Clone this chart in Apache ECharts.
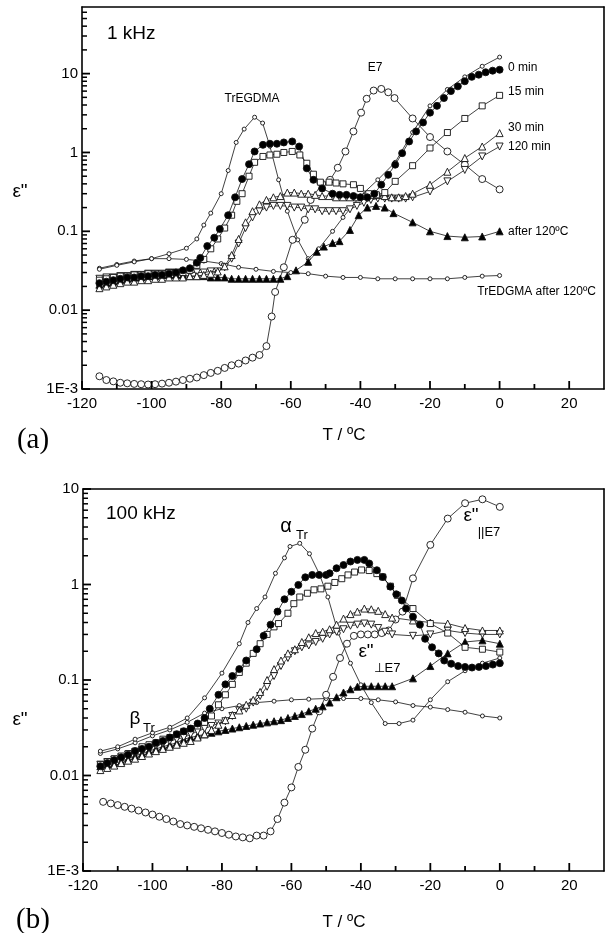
<!DOCTYPE html>
<html>
<head>
<meta charset="utf-8">
<script src="https://cdn.jsdelivr.net/npm/echarts@6/dist/echarts.min.js"></script>
<style>
html, body { margin: 0; padding: 0; background: #fff; }
#chart { width: 607px; height: 933px; }
</style>
</head>
<body>
<div id="chart"></div>
<script>
// ---- ticks ----
var xMajor = [-120, -100, -80, -60, -40, -20, 0, 20];
var xMinor = [-110, -90, -70, -50, -30, -10, 10];
var yMajor = [0.001, 0.01, 0.1, 1, 10];
var yMinorA = [0.002,0.003,0.004,0.005,0.006,0.007,0.008,0.009,0.02,0.03,0.04,0.05,0.06,0.07,0.08,0.09,
  0.2,0.3,0.4,0.5,0.6,0.7,0.8,0.9,2,3,4,5,6,7,8,9,20,30,40,50,60];
var yMinorB = yMinorA.filter(function (v) { return v < 10; });

// ---- (a) 1 kHz ----
var a_TrEGDMA = [[-115,0.033],[-110,0.037],[-105,0.041],[-100,0.045],[-95,0.052],[-90,0.061],[-87,0.08],[-85,0.12],[-83,0.17],[-80,0.3],[-78,0.59],[-75.7,1.34],[-73.4,1.98],[-70.4,2.8],[-68.1,2.36],[-66,1.2],[-63.5,0.45],[-61,0.18],[-58,0.078],[-55,0.045],[-52,0.06],[-48,0.1],[-45,0.15],[-40,0.28],[-35,0.45],[-30,0.75],[-25,1.8],[-20,3.9],[-15,6.3],[-10,9.1],[-5,12.4],[0,16.2]];
var a_E7 = [[-115,0.00145],[-113,0.0013],[-111,0.00125],[-109,0.0012],[-107,0.00118],[-105,0.00116],[-103,0.00115],[-101,0.00114],[-99,0.00115],[-97,0.00117],[-95,0.0012],[-93,0.00124],[-91,0.0013],[-89,0.00135],[-87,0.0014],[-85,0.0015],[-83,0.0016],[-81,0.0017],[-79,0.00185],[-77,0.002],[-75,0.0021],[-73,0.0023],[-71,0.0025],[-69,0.0027],[-67,0.0035],[-65.5,0.0083],[-64.5,0.017],[-62,0.035],[-59.5,0.078],[-56,0.14],[-54.3,0.25],[-51,0.4],[-48.7,0.45],[-46.5,0.64],[-44.3,1.03],[-42,1.85],[-39.8,3.2],[-38.2,4.8],[-36.2,6.1],[-34,6.4],[-32,5.8],[-30.2,4.9],[-25,2.7],[-20,1.57],[-15,1.03],[-10,0.7],[-5,0.46],[0,0.34]];
var a_0min = [[-115,0.022],[-113,0.023],[-111,0.024],[-109,0.025],[-107,0.026],[-105,0.026],[-103,0.027],[-101,0.027],[-99,0.028],[-97,0.028],[-95,0.029],[-93,0.03],[-91,0.032],[-89,0.034],[-87,0.04],[-86,0.046],[-84,0.065],[-82,0.083],[-80.4,0.107],[-78,0.16],[-76,0.27],[-74,0.46],[-72,0.71],[-70.4,1.03],[-68,1.25],[-66,1.29],[-64,1.29],[-62,1.34],[-59.6,1.38],[-57.6,1.19],[-55.4,0.63],[-53.5,0.45],[-51,0.35],[-48,0.3],[-46,0.29],[-44,0.29],[-42,0.28],[-40,0.27],[-38,0.27],[-36,0.3],[-34,0.39],[-32,0.52],[-30,0.7],[-28,0.98],[-26,1.38],[-24,1.85],[-22,2.4],[-20,3.2],[-18,3.9],[-16,4.9],[-14,6.0],[-12,6.9],[-10,8.0],[-8,9.1],[-6,9.7],[-4,10.4],[-2,10.9],[0,11.2]];
var a_15min = [[-115,0.024],[-113,0.025],[-111,0.026],[-109,0.027],[-107,0.027],[-105,0.028],[-103,0.028],[-101,0.029],[-99,0.029],[-97,0.029],[-95,0.03],[-93,0.03],[-91,0.03],[-89,0.032],[-87,0.037],[-85,0.044],[-83,0.06],[-81,0.08],[-79,0.11],[-77,0.16],[-75.5,0.24],[-74,0.3],[-72,0.5],[-70.4,0.75],[-68,0.89],[-66,0.93],[-64,0.95],[-62,1.0],[-59.6,1.03],[-57.4,0.93],[-55.4,0.73],[-53.5,0.53],[-51.5,0.42],[-49,0.42],[-47,0.41],[-45,0.4],[-42,0.39],[-40,0.35],[-37.6,0.3],[-35.4,0.29],[-33,0.31],[-30,0.43],[-25,0.68],[-20,1.14],[-15,1.79],[-10,2.7],[-5,3.9],[0,5.3]];
var a_30min = [[-115,0.019],[-113,0.02],[-111,0.021],[-109,0.022],[-107,0.023],[-105,0.023],[-103,0.024],[-101,0.024],[-99,0.025],[-97,0.025],[-95,0.026],[-93,0.026],[-91,0.026],[-89,0.027],[-87,0.027],[-85,0.028],[-83,0.029],[-81,0.031],[-79,0.036],[-77,0.05],[-75,0.08],[-73,0.13],[-71,0.18],[-69,0.22],[-67,0.25],[-65,0.27],[-63,0.28],[-61,0.31],[-59,0.31],[-57,0.3],[-55,0.3],[-53,0.29],[-51,0.28],[-49,0.28],[-47,0.27],[-45,0.27],[-43,0.27],[-41,0.27],[-39,0.28],[-37,0.29],[-35,0.29],[-33,0.28],[-31,0.27],[-29,0.27],[-27,0.28],[-25,0.3],[-20,0.39],[-15,0.57],[-10,0.85],[-5,1.19],[0,1.76]];
var a_120min = [[-115,0.025],[-113,0.026],[-111,0.026],[-109,0.027],[-107,0.027],[-105,0.028],[-103,0.028],[-101,0.029],[-99,0.029],[-97,0.029],[-95,0.03],[-93,0.03],[-91,0.03],[-89,0.03],[-87,0.03],[-85,0.03],[-83,0.031],[-81,0.031],[-79,0.035],[-77,0.045],[-75,0.07],[-73,0.11],[-71,0.15],[-69,0.18],[-67,0.2],[-65,0.21],[-63,0.21],[-61,0.21],[-59,0.2],[-57,0.2],[-55,0.19],[-53,0.19],[-51,0.18],[-49,0.18],[-47,0.18],[-45,0.18],[-43,0.19],[-41,0.21],[-39,0.23],[-37,0.25],[-35,0.26],[-33,0.26],[-31,0.26],[-29,0.26],[-27,0.26],[-25,0.27],[-20,0.32],[-15,0.43],[-10,0.6],[-5,0.89],[0,1.19]];
var a_after = [[-115,0.021],[-113,0.022],[-111,0.023],[-109,0.024],[-107,0.025],[-105,0.026],[-103,0.026],[-101,0.027],[-99,0.027],[-97,0.028],[-95,0.028],[-93,0.028],[-91,0.028],[-89,0.027],[-87,0.027],[-85,0.027],[-83,0.026],[-81,0.026],[-79,0.026],[-77,0.025],[-75,0.025],[-73,0.025],[-71,0.025],[-69,0.025],[-67,0.025],[-65,0.025],[-63,0.025],[-61,0.027],[-58.5,0.032],[-55,0.041],[-52.5,0.055],[-50.5,0.064],[-48,0.071],[-46,0.075],[-43,0.104],[-40.5,0.16],[-38,0.2],[-35.5,0.21],[-33,0.2],[-30.5,0.17],[-25,0.13],[-20,0.1],[-15,0.087],[-10,0.084],[-5,0.086],[0,0.1]];
var a_TrEDGMAafter = [[-115,0.034],[-110,0.038],[-105,0.042],[-100,0.045],[-95,0.045],[-90,0.044],[-85,0.042],[-80,0.039],[-75,0.035],[-70,0.033],[-65,0.031],[-60,0.03],[-55,0.029],[-50,0.027],[-45,0.026],[-40,0.026],[-35,0.025],[-30,0.025],[-25,0.025],[-20,0.025],[-15,0.025],[-10,0.026],[-5,0.027],[0,0.0275]];

// ---- (b) 100 kHz ----
var b_TrEGDMA = [[-115,0.018],[-110,0.02],[-105,0.024],[-100,0.028],[-95,0.032],[-90,0.04],[-85,0.065],[-80,0.118],[-75,0.24],[-72.5,0.4],[-70,0.56],[-67.6,0.74],[-64.6,1.31],[-62,1.9],[-60.4,2.5],[-57.6,2.7],[-54.8,2.1],[-52,1.3],[-49.5,0.74],[-46.5,0.31],[-43,0.15],[-40,0.089],[-37,0.058],[-33,0.035],[-29,0.035],[-25,0.038],[-20,0.062],[-15,0.096],[-10,0.125],[-5,0.15],[0,0.17]];
var b_E7 = [[-114.2,0.0053],[-112,0.0051],[-110,0.0049],[-108,0.0047],[-106,0.0045],[-104,0.0043],[-102,0.0041],[-100,0.0039],[-98,0.0037],[-96,0.0035],[-94,0.0033],[-92,0.0031],[-90,0.003],[-88,0.0029],[-86,0.0028],[-84,0.0027],[-82,0.0026],[-80,0.0025],[-78,0.0024],[-76,0.0023],[-74,0.00225],[-72,0.0022],[-70,0.00235],[-68,0.00235],[-66,0.0026],[-64,0.0035],[-62,0.0052],[-60,0.0075],[-58,0.0123],[-56,0.0186],[-54,0.031],[-52,0.047],[-50,0.07],[-48,0.108],[-46,0.17],[-44,0.24],[-42,0.29],[-40,0.3],[-38,0.3],[-36,0.3],[-34,0.31],[-32,0.33],[-30,0.43],[-28,0.52],[-25,1.16],[-20,2.6],[-15,4.9],[-10,7.1],[-5,7.8],[0,6.5]];
var b_0min = [[-115,0.0125],[-113,0.0135],[-111,0.0145],[-109,0.0155],[-107,0.0165],[-105,0.018],[-103,0.019],[-101,0.02],[-99,0.022],[-97,0.023],[-95,0.025],[-93,0.027],[-91,0.029],[-89,0.031],[-87,0.035],[-85,0.04],[-83.5,0.05],[-81,0.07],[-79,0.09],[-77,0.11],[-75,0.13],[-73,0.16],[-70,0.21],[-68,0.29],[-66,0.38],[-64,0.52],[-62,0.7],[-60,0.84],[-58,0.99],[-56,1.19],[-54,1.26],[-52,1.26],[-50,1.26],[-49,1.31],[-47,1.48],[-45,1.6],[-43,1.74],[-41,1.81],[-39,1.81],[-37.6,1.66],[-35.4,1.41],[-33.7,1.2],[-31.5,0.95],[-29.8,0.79],[-28.2,0.68],[-27,0.56],[-25,0.46],[-23,0.38],[-21.5,0.27],[-19.5,0.22],[-17.6,0.19],[-16,0.16],[-14,0.148],[-12,0.14],[-10,0.137],[-8,0.135],[-6,0.137],[-4,0.14],[-2,0.145],[0,0.15]];
var b_15min = [[-115,0.013],[-113,0.014],[-111,0.015],[-109,0.016],[-107,0.017],[-105,0.018],[-103,0.02],[-101,0.021],[-99,0.022],[-97,0.024],[-95,0.025],[-93,0.027],[-91,0.029],[-89,0.031],[-87,0.033],[-85,0.036],[-83,0.042],[-81,0.055],[-79,0.07],[-77,0.09],[-75,0.12],[-73,0.15],[-71,0.19],[-69,0.24],[-67,0.3],[-65,0.36],[-63.7,0.39],[-61,0.5],[-59.3,0.63],[-57.6,0.74],[-55.4,0.81],[-53.5,0.88],[-51.5,0.9],[-49.5,0.96],[-47.5,1.05],[-45.5,1.15],[-43.7,1.26],[-41.8,1.35],[-39.8,1.42],[-37.6,1.4],[-35.4,1.3],[-33.7,1.2],[-31.5,0.96],[-29.5,0.77],[-25,0.56],[-20,0.39],[-15,0.31],[-10,0.22],[-5,0.21],[0,0.196]];
var b_30min = [[-115,0.0114],[-113,0.012],[-111,0.0127],[-109,0.0135],[-107,0.0143],[-105,0.015],[-103,0.016],[-101,0.017],[-99,0.018],[-97,0.019],[-95,0.02],[-93,0.021],[-91,0.022],[-89,0.023],[-87,0.025],[-85,0.027],[-83,0.03],[-81,0.034],[-79,0.038],[-77,0.043],[-75,0.048],[-73,0.055],[-71,0.062],[-69,0.075],[-67,0.1],[-65,0.13],[-63,0.16],[-61,0.19],[-59,0.21],[-57,0.25],[-55,0.28],[-53,0.31],[-51,0.32],[-49,0.34],[-47,0.38],[-45,0.44],[-43,0.49],[-41,0.52],[-39,0.56],[-37,0.55],[-35,0.53],[-33,0.49],[-31,0.45],[-25,0.42],[-20,0.4],[-15,0.39],[-10,0.35],[-5,0.33],[0,0.33]];
var b_120min = [[-115,0.013],[-113,0.0138],[-111,0.0146],[-109,0.0155],[-107,0.0165],[-105,0.0175],[-103,0.0185],[-101,0.0195],[-99,0.0205],[-97,0.0215],[-95,0.023],[-93,0.024],[-91,0.025],[-89,0.027],[-87,0.029],[-85,0.031],[-83,0.033],[-81,0.035],[-79,0.037],[-77,0.042],[-75,0.048],[-73,0.05],[-71,0.058],[-69,0.068],[-67,0.085],[-65,0.11],[-63,0.14],[-61,0.17],[-59,0.2],[-57,0.22],[-55,0.23],[-53,0.25],[-51,0.27],[-49,0.3],[-47,0.32],[-45,0.34],[-43,0.37],[-41,0.38],[-39,0.39],[-37,0.38],[-35,0.35],[-33,0.32],[-31,0.3],[-25,0.29],[-20,0.3],[-15,0.33],[-10,0.31],[-5,0.3],[0,0.3]];
var b_after = [[-115,0.0125],[-113,0.013],[-111,0.0135],[-109,0.014],[-107,0.015],[-105,0.016],[-103,0.017],[-101,0.018],[-99,0.019],[-97,0.02],[-95,0.021],[-93,0.022],[-91,0.024],[-89,0.025],[-87,0.026],[-85,0.027],[-83,0.028],[-81,0.029],[-79,0.03],[-77,0.031],[-75,0.032],[-73,0.033],[-71,0.034],[-69,0.035],[-67,0.036],[-65,0.037],[-63,0.038],[-61,0.04],[-59,0.042],[-57,0.044],[-55,0.047],[-53,0.05],[-51,0.053],[-49,0.058],[-47,0.066],[-45,0.074],[-43,0.08],[-41,0.085],[-39,0.086],[-37,0.086],[-35,0.086],[-33,0.086],[-31,0.086],[-25,0.104],[-20,0.14],[-15,0.19],[-10,0.25],[-5,0.26],[0,0.24]];
var b_TrEDGMAafter = [[-115,0.017],[-110,0.019],[-105,0.022],[-100,0.026],[-95,0.03],[-90,0.036],[-85,0.045],[-80,0.05],[-75,0.054],[-70,0.058],[-65,0.06],[-60,0.062],[-55,0.063],[-50,0.064],[-45,0.064],[-40,0.064],[-35,0.062],[-30,0.059],[-25,0.054],[-20,0.052],[-15,0.049],[-10,0.046],[-5,0.042],[0,0.04]];

var chart = echarts.init(document.getElementById('chart'));

var FONT = 'Liberation Sans, Arial, sans-serif';
var DOWN_TRI = 'path://M0,0L10,0L5,8.66Z';

function mk(data, gi, symbol, size, filled) {
    return {
        type: 'line',
        xAxisIndex: gi * 2,
        yAxisIndex: gi * 2,
        data: data,
        symbol: symbol,
        symbolSize: size,
        lineStyle: { color: '#111', width: 0.8 },
        itemStyle: { color: filled ? '#000' : '#fff', borderColor: '#111', borderWidth: 0.9 },
        emphasis: { disabled: true },
        animation: false
    };
}

function xAxes(gi) {
    return [
        {
            gridIndex: gi, type: 'value', min: -120, max: 30, position: 'bottom',
            axisLine: { show: true, onZero: false, lineStyle: { color: '#000', width: 1.6 } },
            axisTick: { show: false },
            axisLabel: { customValues: xMajor, color: '#000', fontSize: 15, fontFamily: FONT, margin: 7 },
            splitLine: { show: false }
        },
        {
            gridIndex: gi, type: 'value', min: -120, max: 30, position: 'top',
            axisLine: { show: true, onZero: false, lineStyle: { color: '#000', width: 1.6 } },
            axisTick: { show: false },
            axisLabel: { show: false },
            splitLine: { show: false }
        }
    ];
}

function yAxes(gi, max) {
    return [
        {
            gridIndex: gi, type: 'log', logBase: 10, min: 0.001, max: max, position: 'left',
            axisLine: { show: true, onZero: false, lineStyle: { color: '#000', width: 1.6 } },
            axisTick: { show: false },
            axisLabel: {
                customValues: yMajor, color: '#000', fontSize: 15, fontFamily: FONT, margin: 4,
                formatter: function (v) { return v < 0.005 ? '1E-3' : String(+v.toPrecision(3)); }
            },
            splitLine: { show: false }
        },
        {
            gridIndex: gi, type: 'log', logBase: 10, min: 0.001, max: max, position: 'right',
            axisLine: { show: true, onZero: false, lineStyle: { color: '#000', width: 1.6 } },
            axisTick: { show: false },
            axisLabel: { show: false },
            splitLine: { show: false }
        }
    ];
}

function txt(x, y, s, size, extra) {
    var st = { text: s, fill: '#000', font: (size || 12) + 'px ' + FONT, textAlign: 'center', textVerticalAlign: 'middle' };
    if (extra) { for (var k in extra) st[k] = extra[k]; }
    return { type: 'text', x: x, y: y, style: st, z: 100 };
}

var labels = [
    txt(20, 192, 'ε"', 19),
    txt(20, 720, 'ε"', 19),
    txt(344, 435, 'T / ºC', 17),
    txt(344, 922, 'T / ºC', 17),
    txt(33, 440, '(a)', 29, { font: '29px Liberation Serif, Times New Roman, serif' }),
    txt(33, 920, '(b)', 29, { font: '29px Liberation Serif, Times New Roman, serif' }),
    txt(107, 34, '1 kHz', 19, { textAlign: 'left' }),
    txt(375, 68, 'E7', 12),
    txt(252, 99, 'TrEGDMA', 12),
    txt(508, 68, '0 min', 12, { textAlign: 'left' }),
    txt(508, 92, '15 min', 12, { textAlign: 'left' }),
    txt(508, 128, '30 min', 12, { textAlign: 'left' }),
    txt(508, 147, '120 min', 12, { textAlign: 'left' }),
    txt(508, 232, 'after 120ºC', 12, { textAlign: 'left' }),
    txt(596, 292, 'TrEDGMA after 120ºC', 12, { textAlign: 'right' }),

    txt(106, 514, '100 kHz', 19, { textAlign: 'left' }),
    txt(286, 526, 'α', 20),
    txt(302, 535, 'Tr', 13),
    txt(471, 516, 'ε"', 19),
    txt(489, 532, '||E7', 13),
    txt(366, 652, 'ε"', 19),
    txt(387, 668, '⊥E7', 13),
    txt(135, 719, 'β', 19),
    txt(149, 728, 'Tr', 13)
];

var option = {
    animation: false,
    backgroundColor: '#fff',
    grid: [
        { left: 82, top: 7, width: 522, height: 382, show: false },
        { left: 83, top: 489, width: 521, height: 382, show: false }
    ],
    xAxis: xAxes(0).concat(xAxes(1)),
    yAxis: yAxes(0, 70).concat(yAxes(1, 10)),
    series: [
        mk(a_TrEDGMAafter, 0, 'circle', 4, false),
        mk(a_TrEGDMA, 0, 'circle', 4, false),
        mk(a_E7, 0, 'circle', 7, false),
        mk(a_after, 0, 'triangle', 7, true),
        mk(a_120min, 0, DOWN_TRI, 7, false),
        mk(a_30min, 0, 'triangle', 7, false),
        mk(a_15min, 0, 'rect', 6, false),
        mk(a_0min, 0, 'circle', 7, true),

        mk(b_TrEDGMAafter, 1, 'circle', 4, false),
        mk(b_TrEGDMA, 1, 'circle', 4, false),
        mk(b_E7, 1, 'circle', 7, false),
        mk(b_after, 1, 'triangle', 7, true),
        mk(b_120min, 1, DOWN_TRI, 7, false),
        mk(b_30min, 1, 'triangle', 7, false),
        mk(b_15min, 1, 'rect', 6, false),
        mk(b_0min, 1, 'circle', 7, true)
    ],
    graphic: labels
};

chart.setOption(option);

// inward tick marks, positioned through the axes after the first render
function tickLine(x1, y1, x2, y2, w) {
    return { type: 'line', shape: { x1: x1, y1: y1, x2: x2, y2: y2 }, style: { stroke: '#000', lineWidth: w }, z: 50, silent: true };
}

function ticksFor(gi, yMinor) {
    var out = [];
    var finder = { xAxisIndex: gi * 2, yAxisIndex: gi * 2 };
    function px(x, y) { return chart.convertToPixel(finder, [x, y]); }
    yMajor.forEach(function (v) { var p = px(-120, v); out.push(tickLine(p[0], p[1], p[0] + 8, p[1], 1.8)); });
    yMinor.forEach(function (v) { var p = px(-120, v); out.push(tickLine(p[0], p[1], p[0] + 5, p[1], 1.5)); });
    xMajor.forEach(function (v) { var p = px(v, 0.001); out.push(tickLine(p[0], p[1], p[0], p[1] - 8, 1.8)); });
    xMinor.forEach(function (v) { var p = px(v, 0.001); out.push(tickLine(p[0], p[1], p[0], p[1] - 5, 1.8)); });
    return out;
}

var ticks = ticksFor(0, yMinorA).concat(ticksFor(1, yMinorB));
chart.setOption({ graphic: labels.concat(ticks) });
</script>
</body>
</html>
